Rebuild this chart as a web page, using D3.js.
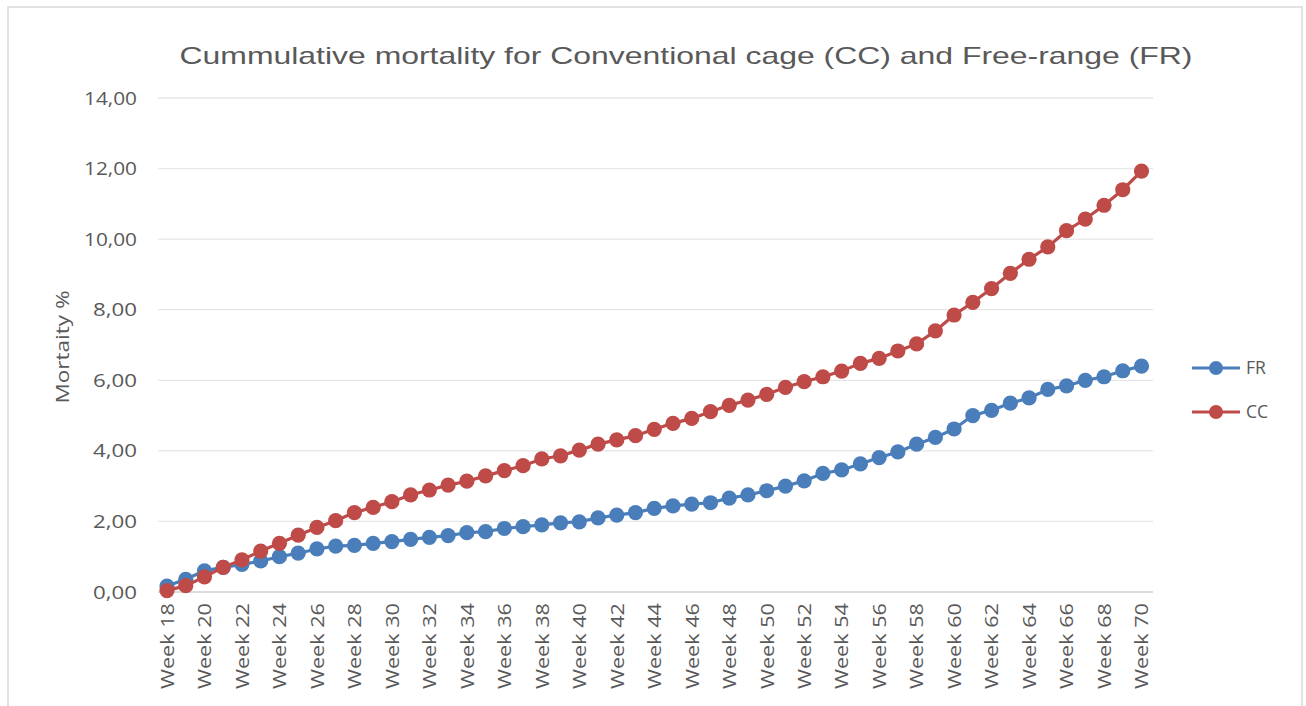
<!DOCTYPE html>
<html><head><meta charset="utf-8">
<script src="https://cdn.jsdelivr.net/npm/d3@7/dist/d3.min.js"></script>
<style>body{margin:0;background:#fff;}svg{display:block;}</style>
</head><body>
<svg id="c" width="1306" height="706"></svg>
<script>
const weeks = d3.range(18, 71).map(w => "Week " + w);
const FR = [0.17,0.36,0.6,0.7,0.78,0.88,1.0,1.1,1.22,1.3,1.32,1.38,1.43,1.49,1.55,1.6,1.68,1.71,1.8,1.85,1.9,1.96,1.99,2.1,2.18,2.25,2.37,2.44,2.49,2.53,2.66,2.75,2.87,3.0,3.15,3.36,3.46,3.63,3.81,3.97,4.19,4.38,4.62,5.0,5.15,5.35,5.5,5.74,5.84,6.0,6.1,6.27,6.4];
const CC = [0.04,0.18,0.43,0.7,0.91,1.16,1.38,1.61,1.83,2.02,2.25,2.4,2.56,2.75,2.89,3.03,3.14,3.29,3.44,3.58,3.77,3.86,4.02,4.19,4.31,4.43,4.61,4.78,4.92,5.11,5.29,5.44,5.6,5.8,5.96,6.1,6.26,6.48,6.62,6.83,7.03,7.4,7.85,8.21,8.6,9.03,9.43,9.78,10.24,10.57,10.96,11.4,11.93];
const yTicks = [0,2,4,6,8,10,12,14];
const seriesNames = ["FR","CC"];
const colors = {FR:"#4a7ebb", CC:"#be4b48"};

const svg = d3.select("#c");
// outer border
svg.append("rect").attr("x",8).attr("y",7).attr("width",1294).attr("height",710)
  .attr("fill","none").attr("stroke","#d9d9d9").attr("stroke-width",1.5);

const x = d3.scalePoint().domain(weeks).range([167, 1141.5]);
const y = d3.scaleLinear().domain([0,14]).range([592, 98]);

// title
svg.append("text").attr("x",686).attr("y",64).attr("text-anchor","middle")
  .attr("font-family","Liberation Sans, Arial, sans-serif").attr("font-size",24)
  .attr("fill","#595959").attr("textLength",1013).attr("lengthAdjust","spacingAndGlyphs")
  .text("Cummulative mortality for Conventional cage (CC) and Free-range (FR)");

// gridlines
svg.append("g").selectAll("line").data(yTicks).join("line")
  .attr("x1",158).attr("x2",1153)
  .attr("y1",d=>y(d)).attr("y2",d=>y(d))
  .attr("stroke",d=>d===0?"#d0d0d0":"#e6e6e6").attr("stroke-width",1.3);

// y axis labels
const yAxis = d3.axisLeft(y).tickValues(yTicks).tickSize(0).tickPadding(0)
  .tickFormat(d => d3.format(".2f")(d).replace(".", ","));
const gy = svg.append("g").attr("transform","translate(137,0)").call(yAxis);
gy.select(".domain").remove();
gy.selectAll("text").attr("font-family","Open Sans, sans-serif").attr("font-size",19).attr("fill","#595959")
  .attr("textLength",53).attr("lengthAdjust","spacingAndGlyphs");
gy.selectAll("text").filter(d => d < 10).attr("textLength",44);

// y title
svg.append("text").attr("transform","translate(69,347) rotate(-90)").attr("text-anchor","middle")
  .attr("font-family","Open Sans, sans-serif").attr("font-size",19).attr("fill","#595959")
  .attr("textLength",113).attr("lengthAdjust","spacingAndGlyphs")
  .text("Mortaity %");

// x axis labels
const xAxis = d3.axisBottom(x).tickValues(weeks.filter((w,i)=>i%2===0)).tickSize(0).tickPadding(0);
const gx = svg.append("g").attr("transform","translate(0,603)").call(xAxis);
gx.select(".domain").remove();
gx.selectAll("text").attr("font-family","Open Sans, sans-serif").attr("font-size",18).attr("fill","#595959")
  .attr("transform","rotate(-90)").attr("text-anchor","end").attr("dx",0).attr("dy","0.35em").attr("x",0).attr("y",0)
  .attr("textLength",86).attr("lengthAdjust","spacingAndGlyphs");

// series
const data = {FR, CC};
const line = d3.line().x((d,i)=>x(weeks[i])).y(d=>y(d));
seriesNames.forEach(name => {
  const g = svg.append("g");
  g.append("path").datum(data[name]).attr("d",line).attr("fill","none")
    .attr("stroke",colors[name]).attr("stroke-width",3.2);
  g.selectAll("circle").data(data[name]).join("circle")
    .attr("cx",(d,i)=>x(weeks[i])).attr("cy",d=>y(d)).attr("r",7.6)
    .attr("fill",colors[name]);
});

// legend
const leg = svg.append("g");
seriesNames.forEach((name,i) => {
  const ly = 368 + i*44;
  leg.append("line").attr("x1",1192).attr("x2",1240).attr("y1",ly).attr("y2",ly)
    .attr("stroke",colors[name]).attr("stroke-width",3.2);
  leg.append("circle").attr("cx",1216).attr("cy",ly).attr("r",7).attr("fill",colors[name]);
  leg.append("text").attr("x",1246).attr("y",ly).attr("dy","0.35em")
    .attr("font-family","Open Sans, sans-serif").attr("font-size",17.5).attr("fill","#595959").text(name);
});
</script>
</body></html>
